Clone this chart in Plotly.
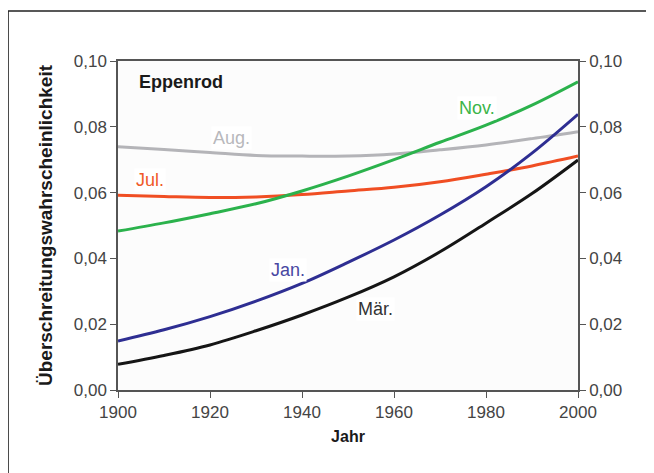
import plotly.graph_objects as go

years = [1900, 1910, 1920, 1930, 1940, 1950, 1960, 1970, 1980, 1990, 2000]
jan = [0.0149, 0.0183, 0.0223, 0.0270, 0.0324, 0.0388, 0.0456, 0.0532, 0.0618, 0.0720, 0.0838]
maer = [0.0078, 0.0105, 0.0137, 0.0180, 0.0228, 0.0282, 0.0344, 0.0420, 0.0507, 0.0597, 0.0699]
jul = [0.0592, 0.0588, 0.0585, 0.0587, 0.0594, 0.0605, 0.0616, 0.0633, 0.0656, 0.0681, 0.0711]
aug = [0.0739, 0.0731, 0.0722, 0.0713, 0.0711, 0.0711, 0.0717, 0.0730, 0.0745, 0.0764, 0.0785]
nov = [0.0483, 0.0508, 0.0536, 0.0566, 0.0605, 0.0650, 0.0700, 0.0753, 0.0805, 0.0866, 0.0937]

series = [
    ("Aug.", aug, "#b4b4b8"),
    ("Jul.", jul, "#f04e23"),
    ("Nov.", nov, "#2bb24c"),
    ("Jan.", jan, "#2e2e92"),
    ("Mär.", maer, "#151515"),
]

labels = [
    ("Aug.", 1924.6, 0.0766, "#b8b8bc"),
    ("Jul.", 1907.0, 0.0638, "#f05a28"),
    ("Nov.", 1978.0, 0.0857, "#3cb54a"),
    ("Jan.", 1937.0, 0.0365, "#4848a2"),
    ("Mär.", 1956.0, 0.0246, "#333333"),
]

FONT = "Liberation Sans, Arial, sans-serif"

fig = go.Figure()
for name, vals, col in series:
    fig.add_trace(go.Scatter(x=years, y=vals, mode="lines", name=name,
                             line=dict(color=col, width=3, shape="spline"),
                             showlegend=False, hoverinfo="skip"))
# invisible trace for right axis
fig.add_trace(go.Scatter(x=years, y=nov, yaxis="y2", mode="lines",
                         line=dict(width=0), opacity=0, showlegend=False,
                         hoverinfo="skip"))

for txt, x, y, col in labels:
    fig.add_annotation(x=x, y=y, text=txt, showarrow=False,
                       font=dict(family=FONT, size=18, color=col),
                       bgcolor="white")

fig.add_annotation(x=1913.7, y=0.0936, text="<b>Eppenrod</b>", showarrow=False,
                   font=dict(family=FONT, size=18, color="#1a1a1a"))

axcommon = dict(showgrid=False, zeroline=False, showline=True,
                linecolor="#555555", linewidth=1.5, ticks="outside",
                ticklen=6, tickcolor="#555555",
                tickfont=dict(family=FONT, size=17, color="#444444"))

fig.update_layout(
    width=654, height=473,
    margin=dict(l=110, r=84, t=53, b=91),
    paper_bgcolor="white", plot_bgcolor="#fcfcfc",
    separators=",.",
    xaxis=dict(range=[1900, 2000], dtick=20, tick0=1900, mirror=True,
               title=dict(text="<b>Jahr</b>", standoff=10,
                          font=dict(family=FONT, size=16, color="#1a1a1a")),
               **axcommon),
    yaxis=dict(range=[0, 0.1], dtick=0.02, tickformat=".2f",
               title=dict(text="<b>Überschreitungswahrscheinlichkeit</b>", standoff=16,
                          font=dict(family=FONT, size=19, color="#1a1a1a")),
               **axcommon),
    yaxis2=dict(range=[0, 0.1], dtick=0.02, tickformat=".2f", overlaying="y",
                side="right", **axcommon),
)

# outer frame (left and top edges)
fig.add_shape(type="path", xref="paper", yref="paper",
              path="M -0.239 -0.3 L -0.239 1.152 L 1.3 1.152",
              line=dict(color="#222222", width=1.5))

fig.write_html("out.html")
